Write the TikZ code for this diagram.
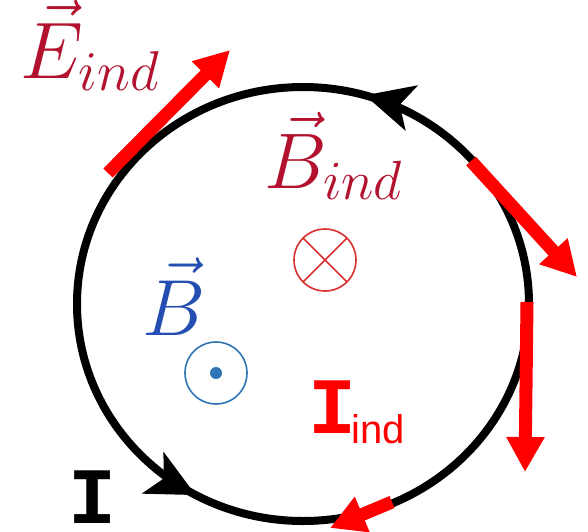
\RequirePackage{fix-cm}
\documentclass[tikz,border=0pt]{standalone}
\usepackage{fontspec}
\usepackage{amsmath}
\newfontfamily\comicI{Liberation Mono}
\newfontfamily\comicsub{Liberation Sans}
\usetikzlibrary{arrows.meta,positioning,calc,decorations.markings}
\definecolor{inddark}{RGB}{178,18,46}
\definecolor{bblue}{RGB}{36,78,178}
\definecolor{dotblue}{RGB}{46,117,182}
\definecolor{crossred}{RGB}{217,48,48}

\begin{document}
\begin{tikzpicture}[x=0.5pt,y=-0.5pt,
  wire/.style={line width=4pt,black},
  wtip/.style={postaction={decorate},decoration={markings,
    mark=at position 0.33 with {\arrowreversed{Stealth[length=24pt,width=23pt,inset=6pt]}},
    mark=at position 0.795 with {\arrowreversed{Stealth[length=24pt,width=23pt,inset=6pt]}}}},
  efield/.style={line width=6.5pt,red,-{Triangle[length=17.5pt,width=18pt]}},
  vecl/.style={inner sep=0pt,anchor=base west,font=\fontsize{34}{40}\selectfont},
  curl/.style={inner sep=0pt,anchor=base west,text depth=0pt},
  dirmark/.style={draw,circle,line width=0.8pt,minimum size=31pt,inner sep=0pt}]
\useasboundingbox (0,0) rectangle (588,531);
\coordinate (c) at (303,304);
% current loop
\draw[wire,wtip] (c) ellipse[x radius=226,y radius=217];
% induced field, tangent to the loop
\coordinate (e1s) at (108,173); \coordinate (e1e) at (230,50);
\coordinate (e2s) at (471,161); \coordinate (e2e) at (577,277);
\coordinate (e3s) at (527,302); \coordinate (e3e) at (525,472);
\coordinate (e4s) at (392,502); \coordinate (e4e) at (330,528);
\draw[efield] (e1s)--(e1e);
\draw[efield] (e2s)--(e2e);
\draw[efield] (e3s)--(e3e);
\draw[efield] (e4s)--(e4e);
% labels
\node[vecl,text=inddark] (eind) at (20,78) {\scalebox{1.18}{$\vec{E}_{ind}$}};
\node[vecl,text=inddark] (bind) at (264,188) {\scalebox{1.16}{$\vec{B}_{ind}$}};
\node[vecl,text=bblue] (bext) at (142,335) {\scalebox{1.17}{$\vec{B}$}};
\node[dirmark,draw=crossred] (into) at (325,260) {};
\draw[crossred,line width=0.8pt] (into.45)--(into.225) (into.135)--(into.315);
\node[dirmark,draw=dotblue] (outof) at (216,373) {};
\fill[dotblue] (outof.center) circle (3pt);
\node[curl,text=red] (iind) at (308,433)
  {{\comicI\bfseries\fontsize{40}{44}\selectfont I}\kern-2.5pt\raisebox{-5pt}{\comicsub\fontsize{20}{24}\selectfont ind}};
\node[curl] (icur) at (68,523) {\comicI\bfseries\fontsize{40}{44}\selectfont I};
\end{tikzpicture}
\end{document}
